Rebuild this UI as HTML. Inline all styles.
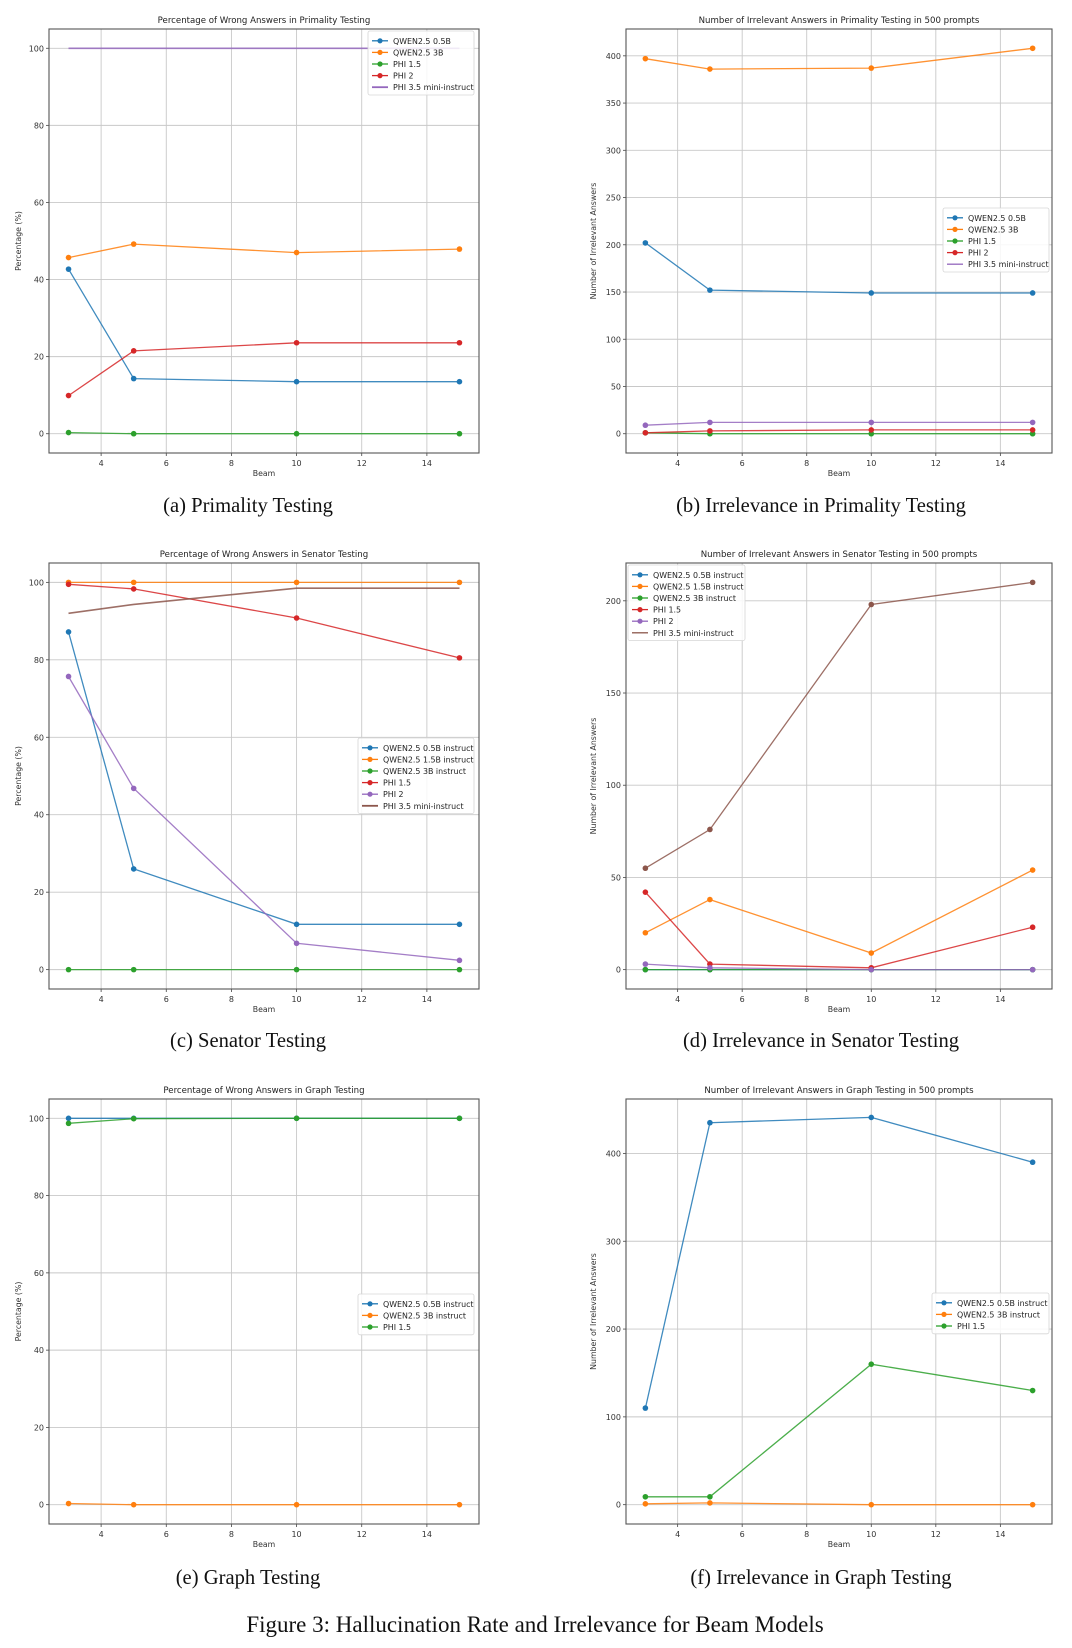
<!DOCTYPE html>
<html><head><meta charset="utf-8"><style>
html,body{margin:0;padding:0;background:#fff;}
svg{display:block;}
</style></head>
<body>
<svg id="fig" width="1072" height="1648" viewBox="0 0 1072 1648" xmlns="http://www.w3.org/2000/svg"></svg>
<script>
const beams=[3,5,10,15];
const xTicks=[4,6,8,10,12,14];
const pctTicks=[0,20,40,60,80,100];
// (a) Primality wrong %
const aQwen05=[42.7,14.3,13.5,13.5];
const aQwen3=[45.7,49.2,47.0,47.9];
const aPhi15=[0.3,0,0,0];
const aPhi2=[9.9,21.5,23.6,23.6];
const aPhi35=[100,100,100,100];
// (b) Primality irrelevant
const bTicks=[0,50,100,150,200,250,300,350,400];
const bQwen05=[202,152,149,149];
const bQwen3=[397,386,387,408];
const bPhi15=[1,0,0,0];
const bPhi2=[1,3,4,4];
const bPhi35=[9,12,12,12];
// (c) Senator wrong %
const cQwen05=[87.2,26.0,11.7,11.7];
const cQwen15=[100,100,100,100];
const cQwen3=[0,0,0,0];
const cPhi15=[99.5,98.3,90.8,80.5];
const cPhi2=[75.7,46.8,6.8,2.4];
const cPhi35=[92.0,94.3,98.5,98.5];
// (d) Senator irrelevant
const dTicks=[0,50,100,150,200];
const dQwen05=[0,0,0,0];
const dQwen15=[20,38,9,54];
const dQwen3=[0,0,0,0];
const dPhi15=[42,3,1,23];
const dPhi2=[3,1,0,0];
const dPhi35=[55,76,198,210];
// (e) Graph wrong %
const eQwen05=[100,100,100,100];
const eQwen3=[0.3,0,0,0];
const ePhi15=[98.7,99.9,100,100];
// (f) Graph irrelevant
const fTicks=[0,100,200,300,400];
const fQwen05=[110,435,441,390];
const fQwen3=[1,2,0,0];
const fPhi15=[9,9,160,130];

const C={blue:'#1f77b4',orange:'#ff7f0e',green:'#2ca02c',red:'#d62728',purple:'#9467bd',brown:'#8c564b'};
const NS='http://www.w3.org/2000/svg';
const svg=document.getElementById('fig');
function mk(tag,attrs,parent){const e=document.createElementNS(NS,tag);for(const k in attrs)e.setAttribute(k,attrs[k]);(parent||svg).appendChild(e);return e;}

const L=[49,479], R=[626,1052];
const rows=[[29,453],[563,989],[1099,1524]];
const charts=[
 {key:'a',title:'Percentage of Wrong Answers in Primality Testing',ylabel:'Percentage (%)',ymin:-5,ymax:105,yticks:pctTicks,xs:L,ys:rows[0],ylx:21,
  leg:{x:368,y:31,w:106},series:[['QWEN2.5 0.5B',C.blue,aQwen05,true],['QWEN2.5 3B',C.orange,aQwen3,true],['PHI 1.5',C.green,aPhi15,true],['PHI 2',C.red,aPhi2,true],['PHI 3.5 mini-instruct',C.purple,aPhi35,false]]},
 {key:'b',title:'Number of Irrelevant Answers in Primality Testing in 500 prompts',ylabel:'Number of Irrelevant Answers',ymin:-20.4,ymax:428.4,yticks:bTicks,xs:R,ys:rows[0],ylx:596,
  leg:{x:943,y:208,w:106},series:[['QWEN2.5 0.5B',C.blue,bQwen05,true],['QWEN2.5 3B',C.orange,bQwen3,true],['PHI 1.5',C.green,bPhi15,true],['PHI 2',C.red,bPhi2,true],['PHI 3.5 mini-instruct',C.purple,bPhi35,true,true]]},
 {key:'c',title:'Percentage of Wrong Answers in Senator Testing',ylabel:'Percentage (%)',ymin:-5,ymax:105,yticks:pctTicks,xs:L,ys:rows[1],ylx:21,
  leg:{x:358,y:738,w:116},series:[['QWEN2.5 0.5B instruct',C.blue,cQwen05,true],['QWEN2.5 1.5B instruct',C.orange,cQwen15,true],['QWEN2.5 3B instruct',C.green,cQwen3,true],['PHI 1.5',C.red,cPhi15,true],['PHI 2',C.purple,cPhi2,true],['PHI 3.5 mini-instruct',C.brown,cPhi35,false]]},
 {key:'d',title:'Number of Irrelevant Answers in Senator Testing in 500 prompts',ylabel:'Number of Irrelevant Answers',ymin:-10.5,ymax:220.5,yticks:dTicks,xs:R,ys:rows[1],ylx:596,
  leg:{x:628,y:565,w:117},series:[['QWEN2.5 0.5B instruct',C.blue,dQwen05,true],['QWEN2.5 1.5B instruct',C.orange,dQwen15,true],['QWEN2.5 3B instruct',C.green,dQwen3,true],['PHI 1.5',C.red,dPhi15,true],['PHI 2',C.purple,dPhi2,true],['PHI 3.5 mini-instruct',C.brown,dPhi35,true,true]]},
 {key:'e',title:'Percentage of Wrong Answers in Graph Testing',ylabel:'Percentage (%)',ymin:-5,ymax:105,yticks:pctTicks,xs:L,ys:rows[2],ylx:21,
  leg:{x:358,y:1294,w:116},series:[['QWEN2.5 0.5B instruct',C.blue,eQwen05,true],['QWEN2.5 3B instruct',C.orange,eQwen3,true],['PHI 1.5',C.green,ePhi15,true]]},
 {key:'f',title:'Number of Irrelevant Answers in Graph Testing in 500 prompts',ylabel:'Number of Irrelevant Answers',ymin:-22,ymax:462,yticks:fTicks,xs:R,ys:rows[2],ylx:596,
  leg:{x:932,y:1293,w:117},series:[['QWEN2.5 0.5B instruct',C.blue,fQwen05,true],['QWEN2.5 3B instruct',C.orange,fQwen3,true],['PHI 1.5',C.green,fPhi15,true]]}
];
const FONT='"DejaVu Sans","Liberation Sans",sans-serif';

charts.forEach(ch=>{
  const [x0,x1]=ch.xs,[y0,y1]=ch.ys;
  const g=mk('g',{});
  
  
  const xS=v=>x0+(v-2.4)/(15.6-2.4)*(x1-x0);
  const yS=v=>y1-(v-ch.ymin)/(ch.ymax-ch.ymin)*(y1-y0);
  xTicks.forEach(t=>{
    const gl=mk('line',{x1:xS(t),x2:xS(t),y1:y0,y2:y1,stroke:'#c8c8c8','stroke-width':0.9},g);
    
    
    const tk=mk('line',{x1:xS(t),x2:xS(t),y1:y1,y2:y1+3,stroke:'#444','stroke-width':0.8},g);
    
    
    const tl=mk('text',{x:xS(t),y:y1+13,'text-anchor':'middle','font-family':FONT,'font-size':8,fill:'#333'},g);
    tl.textContent=t;
    
    
  });
  ch.yticks.forEach(t=>{
    const gl=mk('line',{x1:x0,x2:x1,y1:yS(t),y2:yS(t),stroke:'#c8c8c8','stroke-width':0.9},g);
    
    
    const tk=mk('line',{x1:x0-3,x2:x0,y1:yS(t),y2:yS(t),stroke:'#444','stroke-width':0.8},g);
    
    
    const tl=mk('text',{x:x0-5,y:yS(t)+3,'text-anchor':'end','font-family':FONT,'font-size':8,fill:'#333'},g);
    tl.textContent=t;
    
    
  });
  ch.series.forEach(s=>{
    const [name,col,vals,marker]=s;
    const pts=vals.map((v,i)=>xS(beams[i]).toFixed(1)+','+yS(v).toFixed(1)).join(' ');
    const pl=mk('polyline',{points:pts,fill:'none',stroke:col,'stroke-width':marker?1.3:1.6,'stroke-opacity':0.85},g);
    
    
    if(marker){vals.forEach((v,i)=>{
      const c=mk('circle',{cx:xS(beams[i]),cy:yS(v),r:2.8,fill:col},g);
      
      
    });}
  });
  const fr=mk('rect',{x:x0,y:y0,width:x1-x0,height:y1-y0,fill:'none',stroke:'#555','stroke-width':1.1},g);
  
  
  const ti=mk('text',{x:(x0+x1)/2,y:y0-6,'text-anchor':'middle','font-family':FONT,'font-size':8.6,fill:'#222'},g);
  ti.textContent=ch.title;
  
  
  const xl=mk('text',{x:(x0+x1)/2,y:y1+23,'text-anchor':'middle','font-family':FONT,'font-size':7.8,fill:'#333'},g);
  xl.textContent='Beam';
  
  
  const yc=(y0+y1)/2;
  const yl=mk('text',{x:ch.ylx,y:yc,'text-anchor':'middle','font-family':FONT,'font-size':7.8,fill:'#333',transform:`rotate(-90 ${ch.ylx} ${yc})`},g);
  yl.textContent=ch.ylabel;
  
  
  const lg=ch.leg,rh=11.6,h=ch.series.length*rh+6;
  const lgG=mk('g',{},g);
  
  
  mk('rect',{x:lg.x,y:lg.y,width:lg.w,height:h,rx:2,fill:'#fff','fill-opacity':0.85,stroke:'#d6d6d6','stroke-width':0.8},lgG);
  ch.series.forEach((s,i)=>{
    const [name,col,,marker,legNoMarker]=s;
    const yy=lg.y+4+rh*i+rh/2;
    const e=mk('g',{},lgG);
    
    
    mk('line',{x1:lg.x+4,x2:lg.x+20,y1:yy,y2:yy,stroke:col,'stroke-width':marker?1.3:1.8},e);
    if(marker&&!legNoMarker)mk('circle',{cx:lg.x+12,cy:yy,r:2.6,fill:col},e);
    const t=mk('text',{x:lg.x+25,y:yy+3,'font-family':FONT,'font-size':7.9,fill:'#222'},e);
    t.textContent=name;
  });
});

const caps=[['(a) Primality Testing',248,506],['(b) Irrelevance in Primality Testing',821,506],['(c) Senator Testing',248,1041],['(d) Irrelevance in Senator Testing',821,1041],['(e) Graph Testing',248,1578],['(f) Irrelevance in Graph Testing',821,1578]];
caps.forEach(c=>{
  const t=mk('text',{x:c[1],y:c[2]+6,'text-anchor':'middle','font-family':'"Liberation Serif",serif','font-size':20.6,fill:'#111'});
  t.textContent=c[0];
  
  
});
const fc=mk('text',{x:535,y:1632,'text-anchor':'middle','font-family':'"Liberation Serif",serif','font-size':23,fill:'#111'});
fc.textContent='Figure 3: Hallucination Rate and Irrelevance for Beam Models';


</script>
</body></html>
